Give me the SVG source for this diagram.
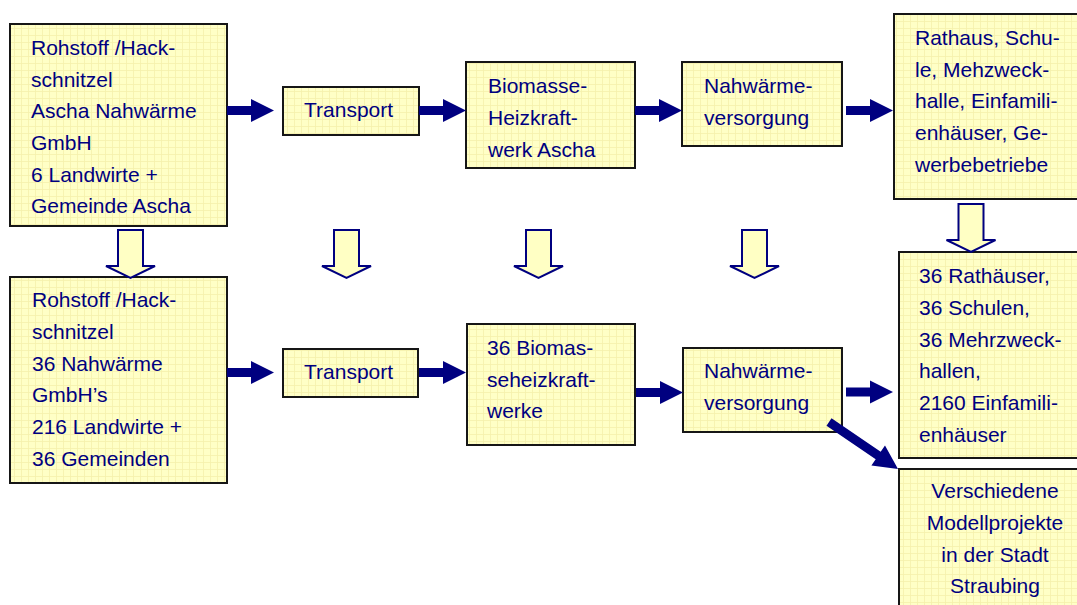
<svg xmlns="http://www.w3.org/2000/svg" xmlns:xlink="http://www.w3.org/1999/xlink" width="1077" height="605" viewBox="0 0 1077 605">
<style>
.box{fill:url(#grid);stroke:#161616;stroke-width:2}
.t{font-family:"Liberation Sans",Arial,sans-serif;font-size:21px;fill:#000080}
.c{text-anchor:middle}
.ha{fill:#000080}
.hol{fill:#FFFFC4;stroke:#000080;stroke-width:2;stroke-linejoin:miter}
</style>
<defs>
<pattern id="grid" width="7" height="7" patternUnits="userSpaceOnUse">
<rect width="7" height="7" fill="#FFFFC6"/>
<path d="M0,0.5H7M0.5,0V7" stroke="#F5F0AC" stroke-width="0.8" fill="none"/>
</pattern>
<path id="harrow" d="M0,-4.5H24V-11.5L47,0L24,11.5V4.5H0Z"/>
<path id="darrow" d="M-12.5,0H12.5V36H24.5L0,48L-24.5,36H-12.5Z"/>
</defs>
<rect width="1077" height="605" fill="#FFFFFF"/>

<g id="n-rohstoff1">
<rect class="box" x="10" y="24" width="217" height="202"/>
<text class="t"><tspan x="31" y="55">Rohstoff /Hack-</tspan><tspan x="31" y="87">schnitzel</tspan><tspan x="31" y="118">Ascha Nahwärme</tspan><tspan x="31" y="150">GmbH</tspan><tspan x="31" y="182">6 Landwirte +</tspan><tspan x="31" y="213">Gemeinde Ascha</tspan></text>
</g>
<g id="n-transport1">
<rect class="box" x="283" y="87" width="136" height="48"/>
<text class="t" x="304" y="117">Transport</text>
</g>
<g id="n-biomasse1">
<rect class="box" x="466" y="62" width="169" height="106"/>
<text class="t"><tspan x="488" y="93">Biomasse-</tspan><tspan x="488" y="125">Heizkraft-</tspan><tspan x="488" y="157">werk Ascha</tspan></text>
</g>
<g id="n-nahwaerme1">
<rect class="box" x="682" y="62" width="160" height="84"/>
<text class="t"><tspan x="704" y="93">Nahwärme-</tspan><tspan x="704" y="125">versorgung</tspan></text>
</g>
<g id="n-rathaus1">
<rect class="box" x="894" y="14" width="200" height="185"/>
<text class="t"><tspan x="915" y="45">Rathaus, Schu-</tspan><tspan x="915" y="77">le, Mehzweck-</tspan><tspan x="915" y="108">halle, Einfamili-</tspan><tspan x="915" y="140">enhäuser, Ge-</tspan><tspan x="915" y="172">werbebetriebe</tspan></text>
</g>

<g id="n-rohstoff2">
<rect class="box" x="10" y="277" width="217" height="206"/>
<text class="t"><tspan x="32" y="307">Rohstoff /Hack-</tspan><tspan x="32" y="339">schnitzel</tspan><tspan x="32" y="371">36 Nahwärme</tspan><tspan x="32" y="402">GmbH’s</tspan><tspan x="32" y="434">216 Landwirte +</tspan><tspan x="32" y="466">36 Gemeinden</tspan></text>
</g>
<g id="n-transport2">
<rect class="box" x="283" y="349" width="135" height="48"/>
<text class="t" x="304" y="379">Transport</text>
</g>
<g id="n-biomasse2">
<rect class="box" x="467" y="324" width="168" height="121"/>
<text class="t"><tspan x="487" y="355">36 Biomas-</tspan><tspan x="487" y="387">seheizkraft-</tspan><tspan x="487" y="418">werke</tspan></text>
</g>
<g id="n-nahwaerme2">
<rect class="box" x="683" y="348" width="159" height="84"/>
<text class="t"><tspan x="704" y="378">Nahwärme-</tspan><tspan x="704" y="410">versorgung</tspan></text>
</g>
<g id="n-rathaus2">
<rect class="box" x="899" y="252" width="200" height="206"/>
<text class="t"><tspan x="919" y="283">36 Rathäuser,</tspan><tspan x="919" y="315">36 Schulen,</tspan><tspan x="919" y="347">36 Mehrzweck-</tspan><tspan x="919" y="378">hallen,</tspan><tspan x="919" y="410">2160 Einfamili-</tspan><tspan x="919" y="442">enhäuser</tspan></text>
</g>
<g id="n-modell">
<rect class="box" x="899" y="469" width="200" height="160"/>
<text class="t c"><tspan x="995" y="498">Verschiedene</tspan><tspan x="995" y="530">Modellprojekte</tspan><tspan x="995" y="562">in der Stadt</tspan><tspan x="995" y="593">Straubing</tspan></text>
</g>

<g id="connectors">
<use xlink:href="#harrow" href="#harrow" class="ha" transform="translate(227,110.5)"/>
<use xlink:href="#harrow" href="#harrow" class="ha" transform="translate(419,110.5)"/>
<use xlink:href="#harrow" href="#harrow" class="ha" transform="translate(635,110.5)"/>
<use xlink:href="#harrow" href="#harrow" class="ha" transform="translate(846,110.5)"/>
<use xlink:href="#harrow" href="#harrow" class="ha" transform="translate(227,372.5)"/>
<use xlink:href="#harrow" href="#harrow" class="ha" transform="translate(419,372.5)"/>
<use xlink:href="#harrow" href="#harrow" class="ha" transform="translate(636,392.5)"/>
<use xlink:href="#harrow" href="#harrow" class="ha" transform="translate(846,392)"/>
<polygon class="ha" points="831.5,418.3 880.7,451.8 885,445.6 898,469 871.4,465.4 875.7,459.2 826.5,425.7"/>
<use xlink:href="#darrow" href="#darrow" class="hol" transform="translate(130.5,230)"/>
<use xlink:href="#darrow" href="#darrow" class="hol" transform="translate(346.5,230)"/>
<use xlink:href="#darrow" href="#darrow" class="hol" transform="translate(538.5,230)"/>
<use xlink:href="#darrow" href="#darrow" class="hol" transform="translate(754.5,230)"/>
<use xlink:href="#darrow" href="#darrow" class="hol" transform="translate(971,204)"/>
</g>
</svg>
